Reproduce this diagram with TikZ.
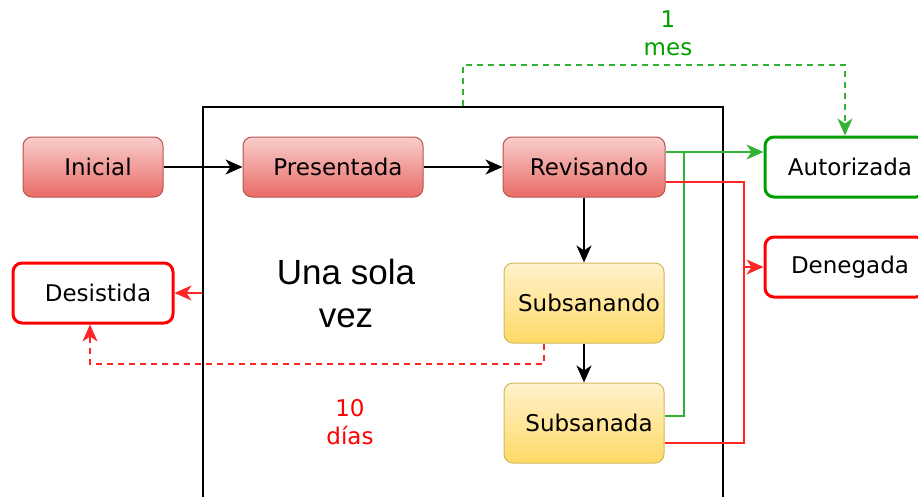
\documentclass[tikz,border=0pt]{standalone}
\usepackage{fontspec}
\setmainfont{DejaVu Sans}
\newfontfamily\bigfont{Liberation Sans}
\usetikzlibrary{arrows.meta,positioning}
\definecolor{redtop}{HTML}{F8CECC}
\definecolor{redbot}{HTML}{EA6B66}
\definecolor{redline}{HTML}{B85450}
\definecolor{yeltop}{HTML}{FFF2CC}
\definecolor{yelbot}{HTML}{FFD966}
\definecolor{yelline}{HTML}{D6B656}
\definecolor{grn}{HTML}{00A000}
\definecolor{rdc}{HTML}{FF0000}
\tikzset{
  x=1pt, y=-1pt,
  every node/.style={font=\fontsize{23}{28}\selectfont, inner sep=0pt},
  boxtext/.style={execute at begin node={\hspace*{10pt}}},
  redbox/.style={boxtext, draw=redline, line width=1pt, rounded corners=9pt, top color=redtop, bottom color=redbot, minimum height=60pt},
  yelbox/.style={boxtext, draw=yelline, line width=1pt, rounded corners=9pt, top color=yeltop, bottom color=yelbot, minimum width=160pt, minimum height=80pt},
  grnbox/.style={boxtext, draw=grn, line width=3pt, rounded corners=9pt, fill=white, minimum width=160pt, minimum height=60pt},
  rdbox/.style={boxtext, draw=rdc, line width=3pt, rounded corners=9pt, fill=white, minimum width=160pt, minimum height=60pt},
  arrowtip/.style={-{Stealth[length=17pt,width=15pt,inset=5pt]}},
  blk/.style={line width=1.4pt, black, arrowtip},
  grnl/.style={line width=1.6pt, grn!80},
  rdl/.style={line width=1.6pt, rdc!85},
  dsh/.style={line width=2pt, dash pattern=on 6pt off 5pt},
}
\begin{document}
\begin{tikzpicture}
\useasboundingbox (0,0) rectangle (918,496);
% big frame
\node[draw=black, line width=1.4pt, minimum width=520pt, minimum height=413pt] (big) at (463,313.5) {};
% nodes
\node[redbox, minimum width=140pt] (ini) at (93,167) {Inicial};
\node[redbox, minimum width=180pt] (pre) at (333,167) {Presentada};
\node[redbox, minimum width=162pt] (rev) at (584,167) {Revisando};
\node[yelbox] (subo) at (584,303) {Subsanando};
\node[yelbox] (suba) at (584,423) {Subsanada};
\node[grnbox] (aut) at (845,167) {Autorizada};
\node[rdbox] (den) at (845,267) {Denegada};
\node[rdbox] (des) at (93,293) {Desistida};
% texts
\node[align=center, font=\bigfont\fontsize{35}{43}\selectfont] (una) at (346,293) {Una sola\\vez};
\node[align=center, text=grn] (mes) at (668,33) {1\\mes};
\node[align=center, text=rdc] (dias) at (350,422) {10\\días};
% coordinates
\coordinate (gj) at (684,152);
\coordinate (rj) at (744,267);
% black arrows
\draw[blk] (ini.east) -- (pre.west);
\draw[blk] (pre.east) -- (rev.west);
\draw[blk] (rev.south) -- (subo.north);
\draw[blk] (subo.south) -- (suba.north);
% green
\draw[grnl, arrowtip] ([yshift=15pt]rev.east) -- ([yshift=15pt]aut.west);
\draw[grnl] ([yshift=7pt]suba.east) -| (gj);
\draw[grnl, dsh, arrowtip] (big.north) -- ++(0,-41) -| (aut.north);
% red
\draw[rdl] ([yshift=-15pt]rev.east) -| (rj);
\draw[rdl] ([yshift=-20pt]suba.east) -| (rj);
\draw[rdl, arrowtip] (rj) -- (den.west);
\draw[rdl, arrowtip] (big.west |- des.east) -- (des.east);
\draw[rdl, dsh, arrowtip] ([xshift=-40pt]subo.south) -- ++(0,20) -| ([xshift=-3pt]des.south);
\end{tikzpicture}
\end{document}
